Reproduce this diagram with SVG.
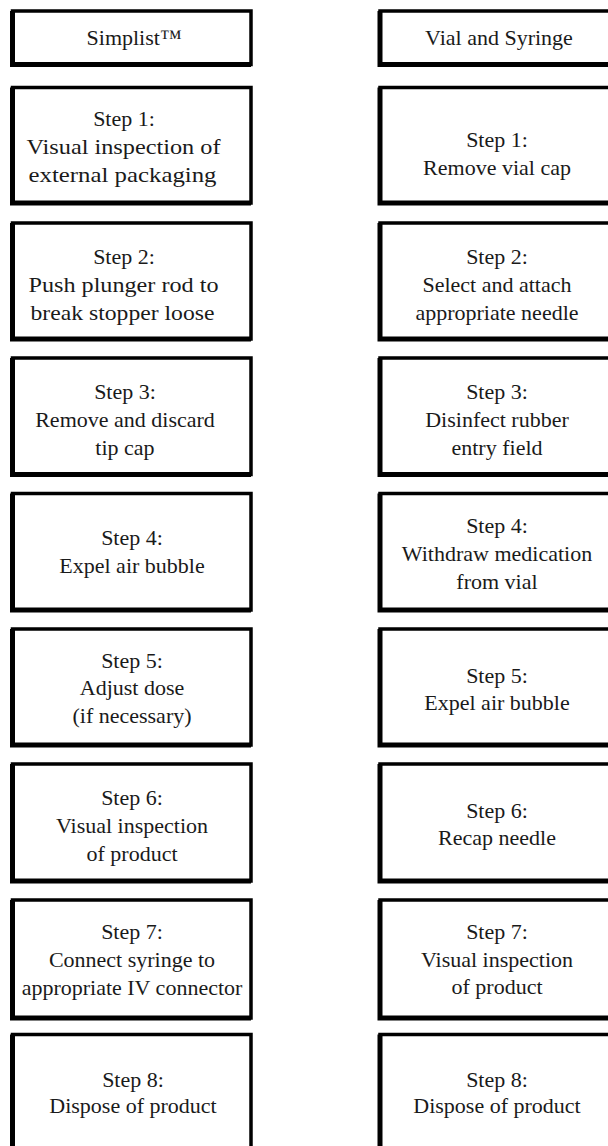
<svg xmlns="http://www.w3.org/2000/svg" width="608" height="1146" viewBox="0 0 608 1146">
<style>
.box{fill:#fff;stroke:#000;stroke-width:3.5}
.edge{fill:none;stroke:#000;stroke-width:5}
text{font-family:"Liberation Serif","Times New Roman",serif;font-size:22px;fill:#1a1a1a;text-anchor:middle}
</style>
<rect width="608" height="1146" fill="#fff"/>
<g id="connectors"></g>
<!-- Left column -->
<g id="L0"><rect class="box" x="12.5" y="11" width="238.5" height="53.5"/><path class="edge" d="M12.5,11V64.5H251"/><text x="134" y="45">Simplist™</text></g>
<g id="L1"><rect class="box" x="12.5" y="87.5" width="238.5" height="115.5"/><path class="edge" d="M12.5,87.5V203H251"/><text x="124" y="126">Step 1:</text><text x="123.5" y="154" textLength="194" lengthAdjust="spacingAndGlyphs">Visual inspection of</text><text x="122.5" y="182" textLength="188" lengthAdjust="spacingAndGlyphs">external packaging</text></g>
<g id="L2"><rect class="box" x="12.5" y="223" width="238.5" height="116"/><path class="edge" d="M12.5,223V339H251"/><text x="124" y="264">Step 2:</text><text x="123.5" y="292" textLength="190" lengthAdjust="spacingAndGlyphs">Push plunger rod to</text><text x="122.5" y="320" textLength="184" lengthAdjust="spacingAndGlyphs">break stopper loose</text></g>
<g id="L3"><rect class="box" x="12.5" y="358" width="238.5" height="116.5"/><path class="edge" d="M12.5,358V474.5H251"/><text x="125" y="399">Step 3:</text><text x="125" y="427">Remove and discard</text><text x="125" y="455">tip cap</text></g>
<g id="L4"><rect class="box" x="12.5" y="493.5" width="238.5" height="116.5"/><path class="edge" d="M12.5,493.5V610H251"/><text x="132" y="545">Step 4:</text><text x="132" y="573">Expel air bubble</text></g>
<g id="L5"><rect class="box" x="12.5" y="629" width="238.5" height="116"/><path class="edge" d="M12.5,629V745H251"/><text x="132" y="668">Step 5:</text><text x="132" y="695">Adjust dose</text><text x="132" y="723">(if necessary)</text></g>
<g id="L6"><rect class="box" x="12.5" y="764" width="238.5" height="117"/><path class="edge" d="M12.5,764V881H251"/><text x="132" y="805">Step 6:</text><text x="132" y="833">Visual inspection</text><text x="132" y="861">of product</text></g>
<g id="L7"><rect class="box" x="12.5" y="900" width="238.5" height="118"/><path class="edge" d="M12.5,900V1018H251"/><text x="132" y="939">Step 7:</text><text x="132" y="967">Connect syringe to</text><text x="132" y="995">appropriate IV connector</text></g>
<g id="L8"><rect class="box" x="12.5" y="1034.5" width="238.5" height="118"/><path class="edge" d="M12.5,1034.5V1152.5H251"/><text x="133" y="1087">Step 8:</text><text x="133" y="1113">Dispose of product</text></g>
<!-- Right column -->
<g id="R0"><rect class="box" x="380" y="11" width="238.5" height="53.5"/><path class="edge" d="M380,11V64.5H618.5"/><text x="499" y="45">Vial and Syringe</text></g>
<g id="R1"><rect class="box" x="380" y="87.5" width="238.5" height="115.5"/><path class="edge" d="M380,87.5V203H618.5"/><text x="497" y="147">Step 1:</text><text x="497" y="175">Remove vial cap</text></g>
<g id="R2"><rect class="box" x="380" y="223" width="238.5" height="116"/><path class="edge" d="M380,223V339H618.5"/><text x="497" y="264">Step 2:</text><text x="497" y="292">Select and attach</text><text x="497" y="320">appropriate needle</text></g>
<g id="R3"><rect class="box" x="380" y="358" width="238.5" height="116.5"/><path class="edge" d="M380,358V474.5H618.5"/><text x="497" y="399">Step 3:</text><text x="497" y="427">Disinfect rubber</text><text x="497" y="455">entry field</text></g>
<g id="R4"><rect class="box" x="380" y="493.5" width="238.5" height="116.5"/><path class="edge" d="M380,493.5V610H618.5"/><text x="497" y="533">Step 4:</text><text x="497" y="561">Withdraw medication</text><text x="497" y="589">from vial</text></g>
<g id="R5"><rect class="box" x="380" y="629" width="238.5" height="116"/><path class="edge" d="M380,629V745H618.5"/><text x="497" y="683">Step 5:</text><text x="497" y="710">Expel air bubble</text></g>
<g id="R6"><rect class="box" x="380" y="764" width="238.5" height="117"/><path class="edge" d="M380,764V881H618.5"/><text x="497" y="818">Step 6:</text><text x="497" y="845">Recap needle</text></g>
<g id="R7"><rect class="box" x="380" y="900" width="238.5" height="118"/><path class="edge" d="M380,900V1018H618.5"/><text x="497" y="939">Step 7:</text><text x="497" y="967">Visual inspection</text><text x="497" y="994">of product</text></g>
<g id="R8"><rect class="box" x="380" y="1034.5" width="238.5" height="118"/><path class="edge" d="M380,1034.5V1152.5H618.5"/><text x="497" y="1087">Step 8:</text><text x="497" y="1113">Dispose of product</text></g>
</svg>
